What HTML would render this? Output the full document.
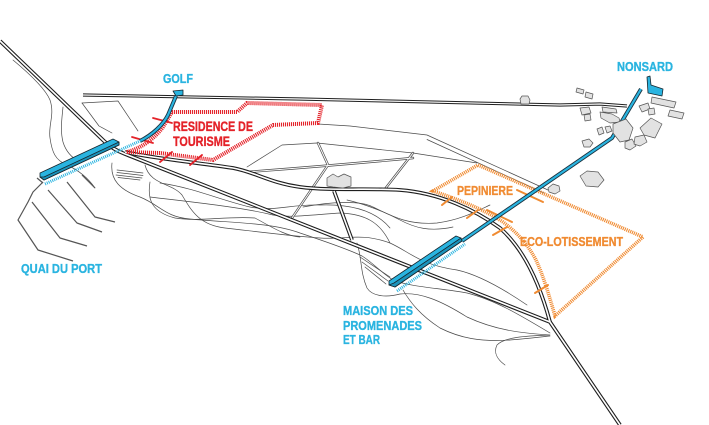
<!DOCTYPE html>
<html><head><meta charset="utf-8"><style>
html,body{margin:0;padding:0;background:#fff;}
svg{display:block;}
text{font-family:"Liberation Sans",sans-serif;font-weight:bold;}
</style></head><body>
<svg width="709" height="425" viewBox="0 0 709 425" xmlns="http://www.w3.org/2000/svg">
<rect width="709" height="425" fill="#fff"/>

<!-- thin contour / field lines -->
<g fill="none" stroke="#4a4a4a" stroke-width="0.7" stroke-linejoin="round" stroke-linecap="round">
  <path d="M13,60 C25,70 45,88 50,100 C55,115 48,125 50,138 C52,152 55,160 67,165 C78,170 88,178 95,188"/>
  <path d="M63,107 C62,118 60,130 63,142 C66,152 72,158 80,162"/>
  <path d="M82,103 L118,101 L138,131"/>
  <path d="M82,103 L99,126 L112,133"/>
  <path d="M112,163 C110,180 120,190 140,197 C160,205 165,217 190,219 C230,223 270,222 300,233 C330,243 350,250 362,256 C372,262 378,270 393,280 C410,287 440,288 467,293 C495,300 520,315 550,333"/>
  <path d="M145,165 C150,185 172,183 182,195 C192,212 200,225 225,228 C260,232 290,236 320,238 C345,240 360,232 390,243 C410,252 420,265 457,270 C480,275 505,290 527,305"/>
  <path d="M150,182 C147,200 152,212 175,218 C200,222 225,216 255,218 C270,226 285,236 300,237"/>
  <path d="M160,183 C195,188 220,200 250,207 C275,212 290,204 320,205 C350,204 375,210 390,228"/>
  <path d="M150,197 C200,203 240,207 273,215 C290,218 310,215 340,213 C365,214 380,222 390,243"/>
  <path d="M303,207 C330,202 360,200 373,207 C395,218 410,225 437,223 C460,220 475,212 490,205"/>
  <path d="M347,200 C365,204 385,212 400,220 C415,228 430,232 453,227"/>
  <path d="M357,243 C362,258 360,272 367,288 C372,296 385,298 400,294 C420,292 440,300 467,317 C495,330 520,333 550,335 C525,336 505,337 497,345 C493,353 498,360 505,365"/>
  <path d="M403,290 C410,302 420,315 440,328 C460,338 480,342 510,340 C525,339 540,337 550,336"/>
  <path d="M360,257 L390,277 M362,262 L388,281 M365,267 L386,284"/>
  <path d="M117,170 L143,173 M117,172.5 L143,175.5 M116,175 L142,178 M118,177.5 L140,180"/>
  <path d="M247,167 L282,145 L317,143 L413,153 L477,163"/>
  <path d="M318,124 L350,126 L427,135 L548,190"/>
  <path d="M427,139.5 L544,193"/>
</g>

<!-- narrow double lanes -->
<g fill="none" stroke-linejoin="round" stroke-linecap="round">
  <g stroke="#4a4a4a" stroke-width="2.4">
    <path d="M247,172 C300,168 360,163 413,158"/>
    <path d="M318,143 L328,165 L292,218"/>
    <path d="M413,153 L385,189"/>
  </g>
  <g stroke="#fff" stroke-width="1">
    <path d="M247,172 C300,168 360,163 413,158"/>
    <path d="M318,143 L328,165 L292,218"/>
    <path d="M413,153 L385,189"/>
  </g>
</g>

<!-- quai lines -->
<g fill="none" stroke="#555" stroke-width="1.2" stroke-linejoin="round">
  <path d="M43,182 L33,192 L28,202 L18,220 L38,250 L73,261"/>
  <path d="M32,202 L60,238 L87,246"/>
  <path d="M48,190 L77,223 L102,232"/>
  <path d="M67,182 L95,217 L115,222"/>
  <path d="M82,175 L95,188"/>
  <path d="M37,178 L43,183"/>
</g>

<!-- main roads -->
<g fill="none" stroke-linejoin="round" stroke-linecap="butt">
  <g stroke="#1e1e1e" stroke-width="3.8">
    <path d="M0,41 L104,141 Q112,149 125,154 L550,322 L620,425"/>
    <path d="M125,152 C150,158 200,163 233,168 C255,172 270,183 300,187 C330,191 370,188 400,190 C440,193 475,210 500,228 C525,250 540,285 550,322"/>
    <path d="M334,191 L352,240"/>
  </g>
  <path d="M83,95 L300,99 L560,105 L600,104 L627,106" stroke="#1e1e1e" stroke-width="3.2"/>
  <g stroke="#fff" stroke-width="1.6">
    <path d="M0,41 L104,141 Q112,149 125,154 L550,322 L620,425"/>
    <path d="M125,152 C150,158 200,163 233,168 C255,172 270,183 300,187 C330,191 370,188 400,190 C440,193 475,210 500,228 C525,250 540,285 550,322"/>
    <path d="M334,191 L352,240"/>
  </g>
  <path d="M83,95 L300,99 L560,105 L600,104 L627,106" stroke="#fff" stroke-width="1.2"/>
</g>

<!-- red zone -->
<path d="M127,152 C142,148 155,138 163,127 L172,112 L237,112 L247,103 L322,105 L318,123 L273,125 L213,160 L160,153 Z" fill="none" stroke="#e42229" stroke-width="4" stroke-dasharray="1.1 0.9"/>
<g stroke="#e42229" stroke-width="1.8" stroke-linecap="round">
  <line x1="153" y1="118" x2="172" y2="123"/>
  <line x1="132" y1="137" x2="153" y2="143"/>
  <line x1="160" y1="162" x2="172" y2="152"/>
  <line x1="190" y1="165" x2="202" y2="155"/>
</g>

<!-- orange zone -->
<path d="M433,191 L478,165 L643,237 L555,316 C549,295 543,275 536,260 C528,245 518,233 503,222 C485,210 460,200 433,191 Z" fill="none" stroke="#f08b32" stroke-width="3.6" stroke-dasharray="1.1 0.9"/>
<g stroke="#f08b32" stroke-width="2" stroke-linecap="round">
  <line x1="442" y1="205" x2="452" y2="197"/>
  <line x1="467" y1="218" x2="478" y2="210"/>
  <line x1="487" y1="210" x2="512" y2="222"/>
  <line x1="493" y1="235" x2="507" y2="227"/>
  <line x1="517" y1="190" x2="543" y2="202"/>
  <line x1="535" y1="293" x2="548" y2="285"/>
</g>

<!-- blue paths -->
<g fill="none" stroke-linejoin="round">
  <path d="M45,184 L140,141" stroke="#2ab4e0" stroke-width="3" stroke-dasharray="1 1"/>
  <path d="M397,291 L465,244" stroke="#2ab4e0" stroke-width="3" stroke-dasharray="1 1"/>
  <g stroke="#1b3340" stroke-width="4">
    <path d="M140,141 C152,135 163,125 168,115 L176,96"/>
    <path d="M462,241 L612,138 L641,89"/>
  </g>
  <g stroke="#2ab4e0" stroke-width="2.2">
    <path d="M140,141 C152,135 163,125 168,115 L176,96"/>
    <path d="M462,241 L612,138 L641,89"/>
  </g>
</g>

<!-- bars -->
<g stroke="#15252d" stroke-width="0.8" stroke-linejoin="round">
  <polygon points="40,173 113,139 119,142 119,145 44,180 40,177" fill="#2ab4e0"/>
  <polygon points="40,177 44,180 119,145 119,142 44,177" fill="#1b93bb"/>
  <polygon points="389,281 456,236 461,238 462,241 395,287 389,285" fill="#2ab4e0"/>
  <polygon points="389,285 395,287 462,241 461,238 394,283" fill="#1b93bb"/>
  <polygon points="173,91 183,90 183,95 176,96" fill="#2ab4e0"/>
  <polygon points="647,77 650,76 651,85 663,89 662,96 648,93" fill="#2ab4e0"/>
</g>

<!-- buildings -->
<g fill="#e2e2e2" stroke="#555" stroke-width="0.7" stroke-linejoin="round">
  <polygon points="520,99 522,96 528,96 530,100 529,104 521,104"/>
  <polygon points="577,88 584,90 583,94 576,92"/>
  <polygon points="586,92 593,94 592,99 585,97"/>
  <polygon points="580,108 589,107 591,113 582,115"/>
  <polygon points="584,115 590,114 591,120 585,121"/>
  <polygon points="602,107 616,109 617,113 603,112"/>
  <polygon points="600,112 612,114 619,118 620,122 610,123 601,118"/>
  <polygon points="597,129 602,127 604,133 599,135"/>
  <polygon points="605,127 610,126 612,131 607,133"/>
  <polygon points="582,141 589,139 593,143 590,147 584,147"/>
  <polygon points="613,124 626,119 633,128 629,140 620,142 613,133"/>
  <polygon points="625,142 632,139 636,146 630,150 625,148"/>
  <polygon points="635,137 644,135 647,142 640,146 634,144"/>
  <polygon points="640,128 651,118 662,124 655,138 644,135"/>
  <polygon points="639,106 648,103 650,109 642,112"/>
  <polygon points="648,109 654,108 655,114 649,115"/>
  <polygon points="652,97 676,102 674,108 651,103"/>
  <polygon points="670,110 684,113 682,119 668,116"/>
  <polygon points="580,176 587,171 598,172 604,180 598,187 586,186"/>
  <polygon points="548,188 553,184 559,186 560,191 555,194 549,192"/>
  <polygon points="327,178 333,174 338,177 344,174 351,177 351,186 343,188 333,187 327,186"/>
</g>

<!-- labels -->
<g fill="#2ab4e0" stroke="#2ab4e0" stroke-width="0.35" font-size="13">
  <text x="163" y="83" textLength="30" lengthAdjust="spacingAndGlyphs">GOLF</text>
  <text x="617" y="71" textLength="56" lengthAdjust="spacingAndGlyphs">NONSARD</text>
  <text x="21" y="273" textLength="81" lengthAdjust="spacingAndGlyphs">QUAI DU PORT</text>
  <text x="343" y="315" textLength="70" lengthAdjust="spacingAndGlyphs">MAISON DES</text>
  <text x="343" y="330" textLength="79" lengthAdjust="spacingAndGlyphs">PROMENADES</text>
  <text x="343" y="344" textLength="37" lengthAdjust="spacingAndGlyphs">ET BAR</text>
</g>
<g fill="#e42229" stroke="#e42229" stroke-width="0.35" font-size="14">
  <text x="173" y="131" textLength="80" lengthAdjust="spacingAndGlyphs">RESIDENCE DE</text>
  <text x="173" y="146" textLength="57" lengthAdjust="spacingAndGlyphs">TOURISME</text>
</g>
<g fill="#f08b32" stroke="#f08b32" stroke-width="0.35" font-size="13">
  <text x="457" y="195" textLength="56" lengthAdjust="spacingAndGlyphs">PEPINIERE</text>
  <text x="520" y="246" textLength="103" lengthAdjust="spacingAndGlyphs">ECO-LOTISSEMENT</text>
</g>
</svg>
</body></html>
